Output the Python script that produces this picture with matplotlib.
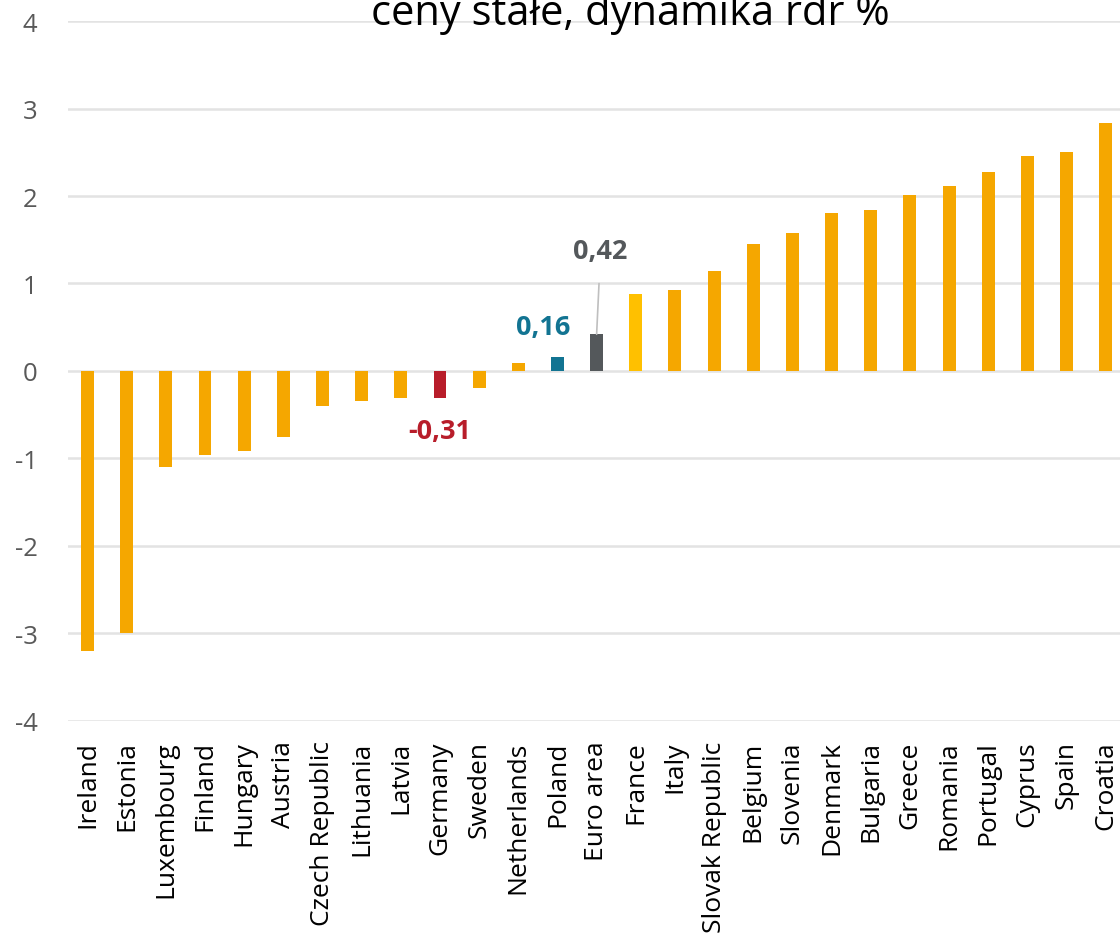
import matplotlib.pyplot as plt

# dane
kraje = ['Ireland', 'Estonia', 'Luxembourg', 'Finland', 'Hungary', 'Austria',
         'Czech Republic', 'Lithuania', 'Latvia', 'Germany', 'Sweden',
         'Netherlands', 'Poland', 'Euro area', 'France', 'Italy',
         'Slovak Republic', 'Belgium', 'Slovenia', 'Denmark', 'Bulgaria',
         'Greece', 'Romania', 'Portugal', 'Cyprus', 'Spain', 'Croatia']
wartosci = [-3.20, -3.00, -1.10, -0.96, -0.92, -0.75, -0.40, -0.34, -0.31,
            -0.31, -0.19, 0.09, 0.16, 0.42, 0.88, 0.92, 1.14, 1.45, 1.58,
            1.81, 1.84, 2.01, 2.11, 2.28, 2.46, 2.50, 2.83]
tytul = 'ceny stałe, dynamika rdr %'

kolory = {'Germany': '#B81D2A', 'Poland': '#127492',
          'Euro area': '#54585B', 'France': '#FFC000'}
kolor_bazowy = '#F5A700'
bar_colors = [kolory.get(k, kolor_bazowy) for k in kraje]

plt.rcParams['font.family'] = ['Open Sans', 'DejaVu Sans']
plt.rcParams['axes.unicode_minus'] = False

fig = plt.figure(figsize=(11.2, 9.37), dpi=100)
ax = fig.add_axes([0.0607, 0.2295, 0.944, 0.747])

x = range(len(kraje))
ax.bar(x, wartosci, width=0.33, color=bar_colors, zorder=3)

ax.set_xlim(-0.5, len(kraje) - 0.5)
ax.set_ylim(-4, 4)
ax.set_yticks(range(-4, 5))
ax.yaxis.grid(True, color='#E3E3E3', linewidth=1.8, zorder=0)
ax.set_axisbelow(True)
for s in ax.spines.values():
    s.set_visible(False)
ax.tick_params(axis='y', length=0, labelsize=18.5, labelcolor='#595959', pad=22)
ax.tick_params(axis='x', length=0, labelsize=19, labelcolor='black', pad=14)
ax.set_xticks(list(x))
ax.set_xticklabels(kraje, rotation=90, va='top', ha='center')

# etykiety wyróżnionych krajów
i_de = kraje.index('Germany')
ax.annotate('-0,31', (i_de, wartosci[i_de]), xytext=(i_de, -0.69),
            ha='center', va='center', fontsize=19.5, fontweight='bold',
            color=kolory['Germany'])
i_pl = kraje.index('Poland')
ax.annotate('0,16', (i_pl, wartosci[i_pl]), xytext=(i_pl - 0.36, 0.50),
            ha='center', va='center', fontsize=19.5, fontweight='bold',
            color=kolory['Poland'])
i_ea = kraje.index('Euro area')
ax.annotate('0,42', (i_ea, wartosci[i_ea]), xytext=(i_ea + 0.1, 1.37),
            ha='center', va='center', fontsize=19.5, fontweight='bold',
            color=kolory['Euro area'],
            arrowprops=dict(arrowstyle='-', color='#BFBFBF', lw=1.2,
                            shrinkA=12, shrinkB=0))

fig.text(0.5625, 1 - 25 / 937, tytul, ha='center', va='baseline',
         fontsize=30, color='black')

fig.savefig('out.png', dpi=100)
